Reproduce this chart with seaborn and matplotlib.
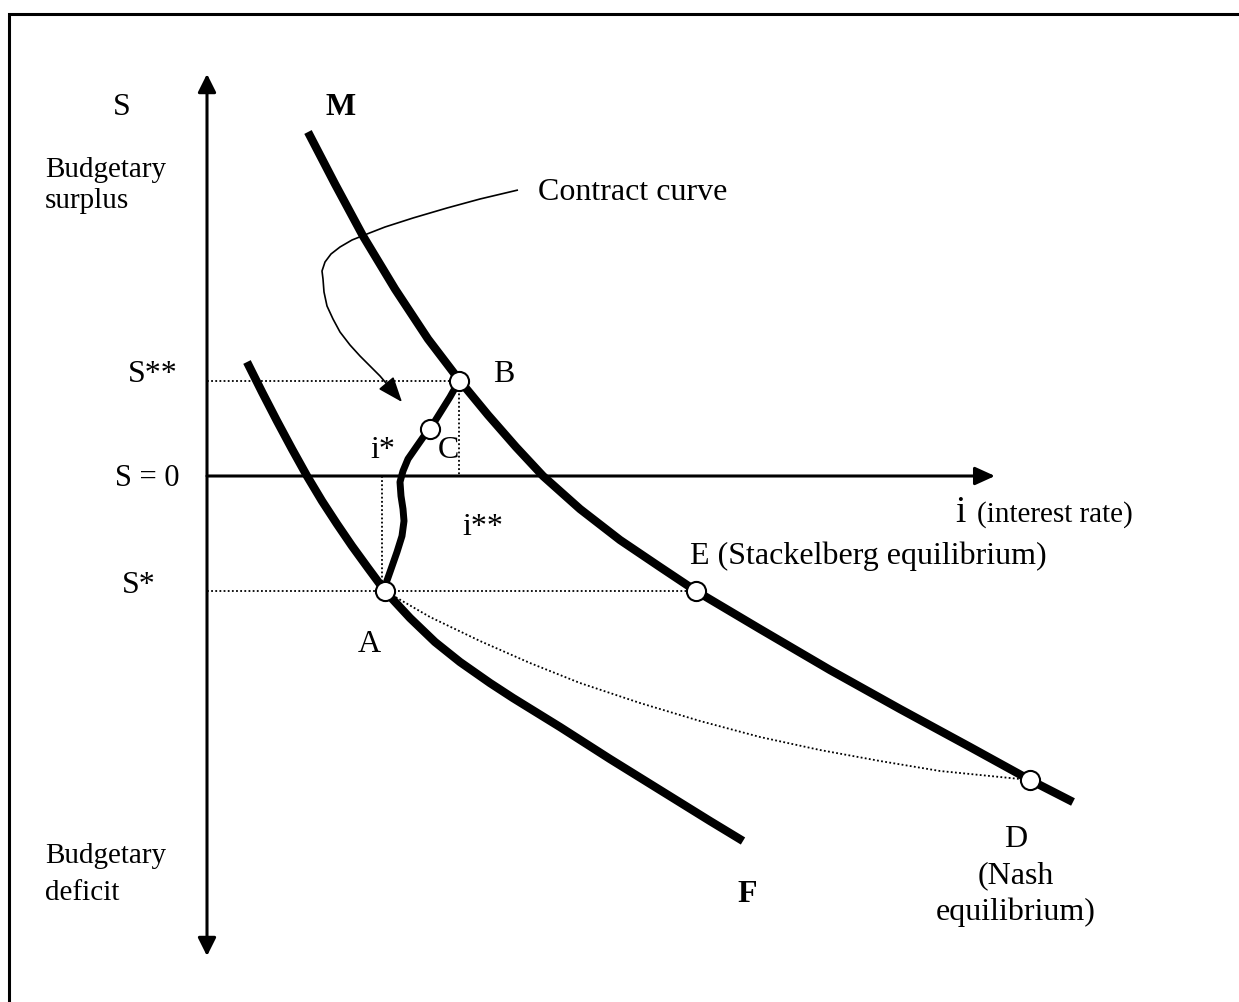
import matplotlib
matplotlib.use("Agg")
import matplotlib.pyplot as plt
import seaborn as sns
import pandas as pd
from matplotlib.patches import FancyArrowPatch

sns.set_style("white")
plt.rcParams['font.family'] = ['Liberation Serif', 'DejaVu Serif']

# ---- data (diagram coordinates: i to the right, S measured downward in drawing units) ----
# M curve (monetary authority reaction)
M_i = [308, 335, 363, 395, 428, 460, 488, 516, 543, 580, 620, 660, 696,
       760, 830, 900, 970, 1030, 1073]
M_s = [133, 185, 237, 290, 340, 382, 416, 448, 477, 510, 541, 568, 592,
       630, 671, 710, 748, 781, 803]
# F curve (fiscal authority reaction)
F_i = [247, 262, 277, 292, 307, 322, 337, 352, 368, 385, 410, 435, 460,
       490, 513, 560, 610, 660, 710, 743]
F_s = [363, 393, 422, 450, 477, 502, 525, 547, 569, 592, 619, 643, 663,
       684, 699, 728, 760, 791, 822, 842]
# contract curve between A and B
CC_i = [384, 390, 397, 402, 404, 403, 401, 400, 403, 408, 417, 424, 430, 440, 450, 459]
CC_s = [590, 573, 553, 537, 522, 510, 497, 483, 472, 460, 447, 437, 430, 414, 398, 382]
# dotted curve A -> D
AD_i = [385, 430, 480, 530, 580, 640, 700, 760, 820, 880, 940, 1000, 1030]
AD_s = [592, 618, 642, 664, 684, 704, 722, 738, 751, 762, 772, 778, 781]
# pointer from label "Contract curve"
PT_i = [518, 480, 447, 413, 385, 367, 352, 340, 331, 325, 322, 323, 324,
        327, 333, 340, 350, 360, 370, 380, 392]
PT_s = [191, 200, 209, 219, 228, 235, 241, 248, 255, 263, 272, 280, 293,
        307, 320, 333, 346, 357, 367, 377, 391]
PT_tip = (402, 403)

# equilibrium points
pt_names = ["A", "B", "C", "E", "D"]
pt_i = [385, 459, 430, 696, 1030]
pt_s = [592, 382, 430, 592, 781]

# reference levels
S_zero = 477
S_star = 592
S_2star = 382
i_star = 382
i_2star = 459
axis_i0 = 207
axis_i_end = 995
axis_s_top = 75
axis_s_bot = 957

fig = plt.figure(figsize=(12.39, 10.03), dpi=100)
ax = fig.add_axes([0, 0, 1, 1])
ax.set_xlim(0, 1239)
ax.set_ylim(1003, 0)
ax.axis("off")

# frame
ax.plot([9, 9, 1250], [1010, 15, 15], color="black", lw=2.2, solid_joinstyle="miter")

# axes arrows
ax.add_patch(FancyArrowPatch((axis_i0, axis_s_bot), (axis_i0, axis_s_top),
                             arrowstyle="<|-|>,head_length=1.0,head_width=0.5",
                             mutation_scale=11, lw=2.2, color="black",
                             shrinkA=0, shrinkB=0))
ax.add_patch(FancyArrowPatch((axis_i0, S_zero), (axis_i_end, S_zero),
                             arrowstyle="-|>,head_length=1.1,head_width=0.5",
                             mutation_scale=11, lw=2.2, color="black",
                             shrinkA=0, shrinkB=0))

# dotted guides
dot = dict(color="black", lw=1.3, linestyle=(0, (1, 1.3)))
ax.plot([axis_i0, i_2star], [S_2star, S_2star], **dot)
ax.plot([i_2star, i_2star], [S_2star, S_zero], **dot)
ax.plot([i_star, i_star], [S_zero, S_star], **dot)
ax.plot([axis_i0, pt_i[3]], [S_star, S_star], **dot)
sns.lineplot(x=AD_i, y=AD_s, sort=False, estimator=None, ax=ax, **dot)

# thick curves
thick = dict(color="black", sort=False, estimator=None, ax=ax,
             solid_capstyle="butt", solid_joinstyle="round")
sns.lineplot(x=M_i, y=M_s, lw=6.0, **thick)
sns.lineplot(x=F_i, y=F_s, lw=6.0, **thick)
sns.lineplot(x=CC_i, y=CC_s, lw=5.0, **thick)

# pointer
sns.lineplot(x=PT_i, y=PT_s, lw=1.2, **thick)
ax.add_patch(FancyArrowPatch((PT_i[-1], PT_s[-1]), PT_tip,
                             arrowstyle="-|>,head_length=1.3,head_width=0.5",
                             mutation_scale=12, lw=1.2, color="black",
                             shrinkA=0, shrinkB=0))

# points
pts = pd.DataFrame({"i": pt_i, "s": pt_s, "name": pt_names})
sns.scatterplot(data=pts, x="i", y="s", s=190, color="white", edgecolor="black",
                linewidth=1.5, ax=ax, zorder=5, legend=False)

# labels
fs = 23
def t(x, y, s, **kw):
    kw.setdefault("fontsize", fs)
    kw.setdefault("ha", "left")
    ax.text(x, y, s, va="baseline", color="black", **kw)

t(113, 115, "S")
t(325, 115, "M", fontweight="bold")
t(45, 177, "Budgetary", fontsize=21)
t(45, 208, "surplus", fontsize=21)
t(538, 200, "Contract curve")
t(128, 382, "S**")
t(493, 382, "B")
t(370, 458, "i*")
t(438, 458, "C")
t(115, 486, "S = 0", fontsize=22)
t(462, 535, "i**")
t(955, 522, "i", fontsize=27)
t(977, 522, "(interest rate)", fontsize=21)
t(690, 564, "E (Stackelberg equilibrium)")
t(122, 593, "S*")
t(358, 652, "A")
t(1016, 847, "D", ha="center")
t(1016, 883, "(Nash", ha="center")
t(1016, 920, "equilibrium)", ha="center")
t(737, 902, "F", fontweight="bold")
t(45, 863, "Budgetary", fontsize=21)
t(45, 900, "deficit", fontsize=21)

fig.savefig("out.png", dpi=100)
